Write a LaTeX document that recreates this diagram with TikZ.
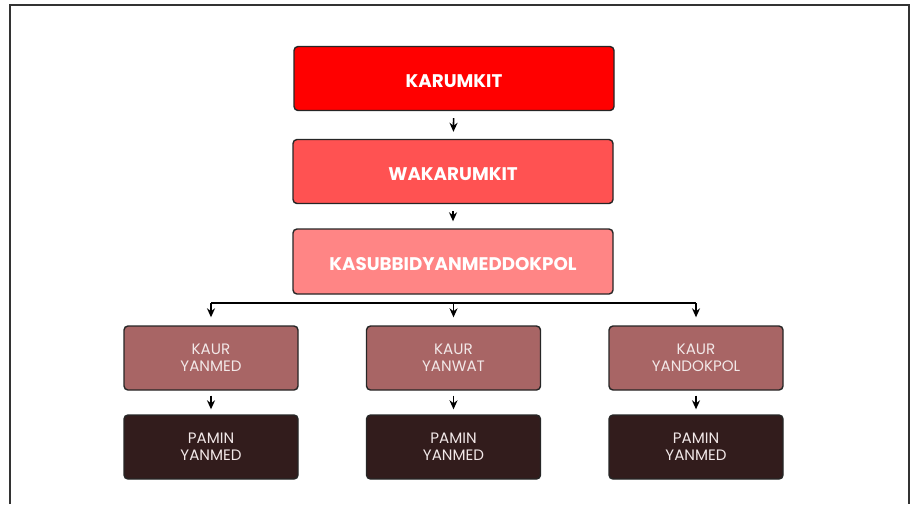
\documentclass[tikz,border=0pt]{standalone}
\usepackage{fontspec}
\setmainfont{Poppins}
\usepackage{tikz}
\usetikzlibrary{arrows.meta}
\usetikzlibrary{calc}
\definecolor{karred}{HTML}{FF0000}
\definecolor{wakred}{HTML}{FF5252}
\definecolor{kasred}{HTML}{FF8585}
\definecolor{kaurred}{HTML}{A86565}
\definecolor{paminbrown}{HTML}{321C1C}
\definecolor{paletext}{HTML}{F2E8E8}
\tikzset{topbox/.style={draw=black!85, line width=.4pt, rounded corners=.04cm, minimum width=3.2cm, minimum height=.64cm, inner sep=0, text height=5pt, text depth=0pt, text=white, font=\fontsize{5.2}{6}\selectfont\bfseries}}
\tikzset{lowbox/.style={draw=black!85, line width=.4pt, rounded corners=.04cm, minimum width=1.74cm, minimum height=.64cm, inner sep=0, text=paletext, align=center, font=\fontsize{4.3}{4.8}\selectfont}}
\tikzset{arr/.style={black, line width=.45pt, -{Stealth[length=.9mm, width=.8mm]}}}

\begin{document}
\begin{tikzpicture}
\useasboundingbox (0,0) rectangle (9.10,5.04);
\draw[black!80, line width=.6pt] (.10,0) -- (.10,4.99) -- (9.09,4.99) -- (9.09,0);
% top row
\node[topbox, fill=karred] (karumkit) at (4.54,4.255) {KARUMKIT};
\node[topbox, fill=wakred] (wakarumkit) at (4.53,3.325) {WAKARUMKIT};
\node[topbox, fill=kasred, minimum height=.65cm] (kasubbid) at (4.53,2.425) {KASUBBIDYANMEDDOKPOL};
% kaur
\node[lowbox, fill=kaurred] (kaurmed) at (2.11,1.46) {KAUR\\YANMED};
\node[lowbox, fill=kaurred] (kaurwat) at (4.535,1.46) {KAUR\\YANWAT};
\node[lowbox, fill=kaurred] (kaurdok) at (6.96,1.46) {KAUR\\YANDOKPOL};
% pamin
\node[lowbox, fill=paminbrown] (paminmed) at (2.11,.57) {PAMIN\\YANMED};
\node[lowbox, fill=paminbrown] (paminwat) at (4.535,.57) {PAMIN\\YANMED};
\node[lowbox, fill=paminbrown] (pamindok) at (6.96,.57) {PAMIN\\YANMED};
\draw[arr, shorten <=.07cm, shorten >=.07cm] (karumkit) -- (wakarumkit);
\draw[arr, shorten <=.07cm, shorten >=.07cm] (wakarumkit) -- (kasubbid);
\coordinate (bar) at (4.53,2.01);
\draw[black, line width=.45pt] (kaurmed |- bar) -- (kaurdok |- bar);
\foreach \k in {kaurmed,kaurwat,kaurdok} {
 \draw[arr, shorten >=.08cm] (\k |- bar) -- (\k);
}
\draw[arr, shorten <=.05cm, shorten >=.05cm] (kaurmed) -- (paminmed);
\draw[arr, shorten <=.05cm, shorten >=.05cm] (kaurwat) -- (paminwat);
\draw[arr, shorten <=.05cm, shorten >=.05cm] (kaurdok) -- (pamindok);
\end{tikzpicture}
\end{document}
